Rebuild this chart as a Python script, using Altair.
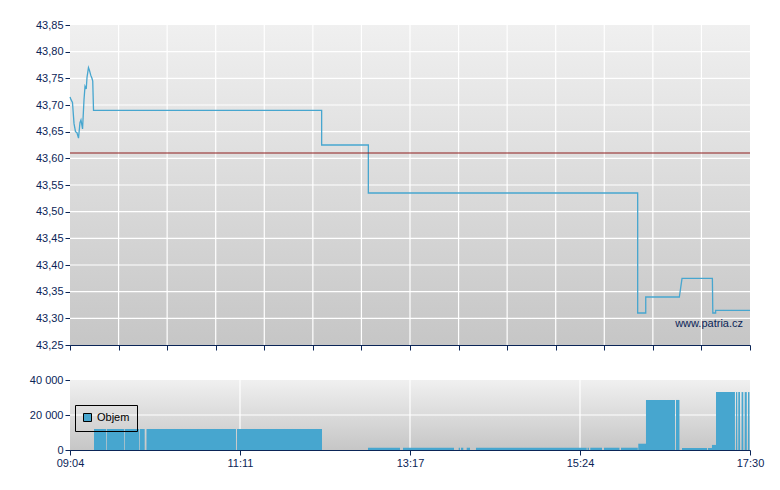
import altair as alt
import pandas as pd

# ---------------- data ----------------
price_times = ["09:04:00", "09:04:45", "09:05:50", "09:07:00", "09:08:05", "09:09:10",
               "09:10:20", "09:11:25", "09:12:10", "09:13:20", "09:14:25", "09:15:10",
               "09:16:05", "09:16:40", "09:17:45", "09:18:30", "09:19:25", "09:20:20",
               "09:20:55", "09:21:30", "12:11:15", "12:11:15", "12:46:00", "12:46:00",
               "16:06:25", "16:06:25", "16:12:25", "16:12:25", "16:37:25", "16:39:25",
               "17:02:00", "17:02:20", "17:04:25", "17:04:25", "17:30:00"]
price_values = [43.715, 43.71, 43.705, 43.665, 43.65, 43.648,
                43.638, 43.667, 43.672, 43.655, 43.71, 43.735,
                43.73, 43.752, 43.77, 43.765, 43.756, 43.75,
                43.745, 43.69, 43.69, 43.625, 43.625, 43.535,
                43.535, 43.31, 43.31, 43.34, 43.34, 43.375,
                43.375, 43.31, 43.31, 43.315, 43.315]
reference_price = 43.61

bar_start = ["09:21:52", "09:31:19", "09:44:42", "09:56:05", "10:00:55", "11:08:16",
             "12:45:44", "13:11:47", "13:53:14", "13:54:57", "13:59:11", "14:06:06",
             "15:29:04", "15:31:09", "15:41:21", "15:54:00", "16:06:52", "16:12:36",
             "16:34:56", "16:39:24", "16:58:42", "17:01:42", "17:04:42", "17:19:34",
             "17:21:17", "17:23:44", "17:26:03", "17:28:30"]
bar_end = ["09:30:47", "09:44:11", "09:55:34", "09:59:35", "11:07:31", "12:11:31",
           "13:09:33", "13:49:44", "13:54:12", "13:56:40", "14:01:39", "15:28:29",
           "15:30:11", "15:39:52", "15:52:53", "16:06:30", "16:12:36", "16:34:12",
           "16:37:30", "16:58:00", "17:01:42", "17:04:42", "17:18:48", "17:20:32",
           "17:22:33", "17:25:00", "17:27:36", "17:29:36"]
bar_volume = [12000, 12000, 12000, 12000, 12000, 12000,
              1300, 1300, 1300, 1300, 1300, 1300,
              1300, 1300, 1300, 1300, 3600, 28600,
              28600, 1150, 1150, 2900, 33100, 33100,
              33100, 33100, 33100, 33100]
series_name = "Objem"

x_tick_labels = ["09:04", "11:11", "13:17", "15:24", "17:30"]
y_price_ticks = [43.25, 43.30, 43.35, 43.40, 43.45, 43.50, 43.55, 43.60,
                 43.65, 43.70, 43.75, 43.80, 43.85]
y_volume_ticks = [0, 20000, 40000]


def to_min(s):
    h, m, sec = (int(v) for v in s.split(":"))
    return h * 60 + m + sec / 60.0


X0 = to_min("09:04:00")
X1 = to_min("17:30:00")
major_ticks = [X0 + i * (X1 - X0) / 4 for i in range(5)]
minor_ticks = [X0 + i * (X1 - X0) / 14 for i in range(15)]

price_df = pd.DataFrame({"t": [to_min(s) for s in price_times],
                         "price": price_values,
                         "i": list(range(len(price_values)))})
vol_df = pd.DataFrame({"t0": [to_min(s) for s in bar_start],
                       "t1": [to_min(s) for s in bar_end],
                       "vol": bar_volume,
                       "base": [0] * len(bar_volume),
                       "series": [series_name] * len(bar_volume)})

NAVY = "#0b2557"
FONT = "Liberation Sans"
BLUE = "#47a6cf"

label_expr = " : ".join(
    f"datum.value == {v} ? '{lab}'" for v, lab in zip(major_ticks, x_tick_labels)
) + " : ''"

grad = alt.Gradient(gradient="linear",
                    stops=[alt.GradientStop(color="#f0f0f0", offset=0),
                           alt.GradientStop(color="#c6c6c6", offset=1)],
                    x1=0, x2=0, y1=0, y2=1)

xscale = alt.Scale(domain=[X0, X1], nice=False, zero=False)
yscale_p = alt.Scale(domain=[y_price_ticks[0], y_price_ticks[-1]], nice=False, zero=False)
yscale_v = alt.Scale(domain=[y_volume_ticks[0], y_volume_ticks[-1]], nice=False, zero=False)

NOAX = alt.Axis(title=None, labelOverlap=False)
W = 680

# ---------------- top panel ----------------
bg_top = alt.Chart(pd.DataFrame({"x": [X0], "x2": [X1],
                                 "y": [y_price_ticks[0]], "y2": [y_price_ticks[-1]]})
                   ).mark_rect(fill=grad).encode(
    x=alt.X("x:Q", scale=xscale,
            axis=alt.Axis(values=minor_ticks, labels=False, title=None, grid=False,
                          tickSize=5, tickCount=30)),
    x2="x2:Q",
    y=alt.Y("y:Q", scale=yscale_p,
            axis=alt.Axis(values=y_price_ticks, title=None, grid=False, tickSize=5,
                          tickCount=30,
                          labelExpr="replace(format(datum.value, '.2f'), '.', ',')",
                          minExtent=45, maxExtent=45, labelOverlap=False)),
    y2="y2:Q",
)

vgrid_top = alt.Chart(pd.DataFrame({"x": minor_ticks[1:-1]})).mark_rule(
    color="white", strokeWidth=1.2).encode(x=alt.X("x:Q", scale=xscale, axis=NOAX))
hgrid_top = alt.Chart(pd.DataFrame({"y": y_price_ticks[1:-1]})).mark_rule(
    color="white", strokeWidth=1.2).encode(y=alt.Y("y:Q", scale=yscale_p, axis=NOAX))

ref_line = alt.Chart(pd.DataFrame({"y": [reference_price]})).mark_rule(
    color="#8e1c1c", strokeWidth=1).encode(y=alt.Y("y:Q", scale=yscale_p, axis=NOAX))

price_line = alt.Chart(price_df).mark_line(color=BLUE, strokeWidth=1.3).encode(
    x=alt.X("t:Q", scale=xscale, axis=NOAX),
    y=alt.Y("price:Q", scale=yscale_p, axis=NOAX),
    order="i:Q",
)

watermark = alt.Chart(pd.DataFrame({"x": [X1], "y": [y_price_ticks[0]]})).mark_text(
    text="www.patria.cz", align="right", baseline="alphabetic", dx=-7, dy=-18,
    font=FONT, fontSize=11, color=NAVY).encode(
    x=alt.X("x:Q", scale=xscale, axis=NOAX),
    y=alt.Y("y:Q", scale=yscale_p, axis=NOAX),
)

top = alt.layer(bg_top, vgrid_top, hgrid_top, price_line, ref_line, watermark).properties(
    width=W, height=320)

# ---------------- bottom panel ----------------
bg_bot = alt.Chart(pd.DataFrame({"x": [X0], "x2": [X1],
                                 "y": [y_volume_ticks[0]], "y2": [y_volume_ticks[-1]]})
                   ).mark_rect(fill=grad).encode(
    x=alt.X("x:Q", scale=xscale,
            axis=alt.Axis(values=major_ticks, labelExpr=label_expr, title=None,
                          grid=False, tickSize=5, tickCount=30,
                          labelFlush=False, labelOverlap=False)),
    x2="x2:Q",
    y=alt.Y("y:Q", scale=yscale_v,
            axis=alt.Axis(values=y_volume_ticks, title=None, grid=False, tickSize=5,
                          tickCount=30,
                          labelExpr="replace(format(datum.value, ',d'), ',', ' ')",
                          minExtent=45, maxExtent=45, labelOverlap=False)),
    y2="y2:Q",
)

vgrid_bot = alt.Chart(pd.DataFrame({"x": major_ticks[1:-1]})).mark_rule(
    color="white", strokeWidth=1.2).encode(x=alt.X("x:Q", scale=xscale, axis=NOAX))
hgrid_bot = alt.Chart(pd.DataFrame({"y": y_volume_ticks[1:-1]})).mark_rule(
    color="white", strokeWidth=1.2).encode(y=alt.Y("y:Q", scale=yscale_v, axis=NOAX))

bars = alt.Chart(vol_df).mark_rect().encode(
    x=alt.X("t0:Q", scale=xscale, axis=NOAX),
    x2="t1:Q",
    y=alt.Y("vol:Q", scale=yscale_v, axis=NOAX),
    y2="base:Q",
    color=alt.Color("series:N", scale=alt.Scale(domain=[series_name], range=[BLUE]),
                    legend=alt.Legend(title=None, orient="none", legendX=5, legendY=380,
                                      strokeColor="black", padding=7,
                                      symbolType="square", symbolSize=64,
                                      symbolStrokeColor="black", symbolStrokeWidth=1,
                                      symbolOpacity=1, labelFont=FONT, labelFontSize=11,
                                      labelColor="black", labelOffset=4)),
)

bottom = alt.layer(bg_bot, vgrid_bot, hgrid_bot, bars).properties(width=W, height=70)

chart = alt.vconcat(top, bottom, spacing=23).properties(
    padding={"left": 17, "top": 11, "right": 5, "bottom": 5}
).configure_view(stroke=None).configure_axis(
    domainColor=NAVY, tickColor=NAVY, labelColor=NAVY, labelFont=FONT,
    labelFontSize=11, domainWidth=1, tickWidth=1, labelPadding=2, grid=False,
    labelOverlap=False
)

chart.save("out.html", embed_options={"renderer": "svg", "actions": False})
